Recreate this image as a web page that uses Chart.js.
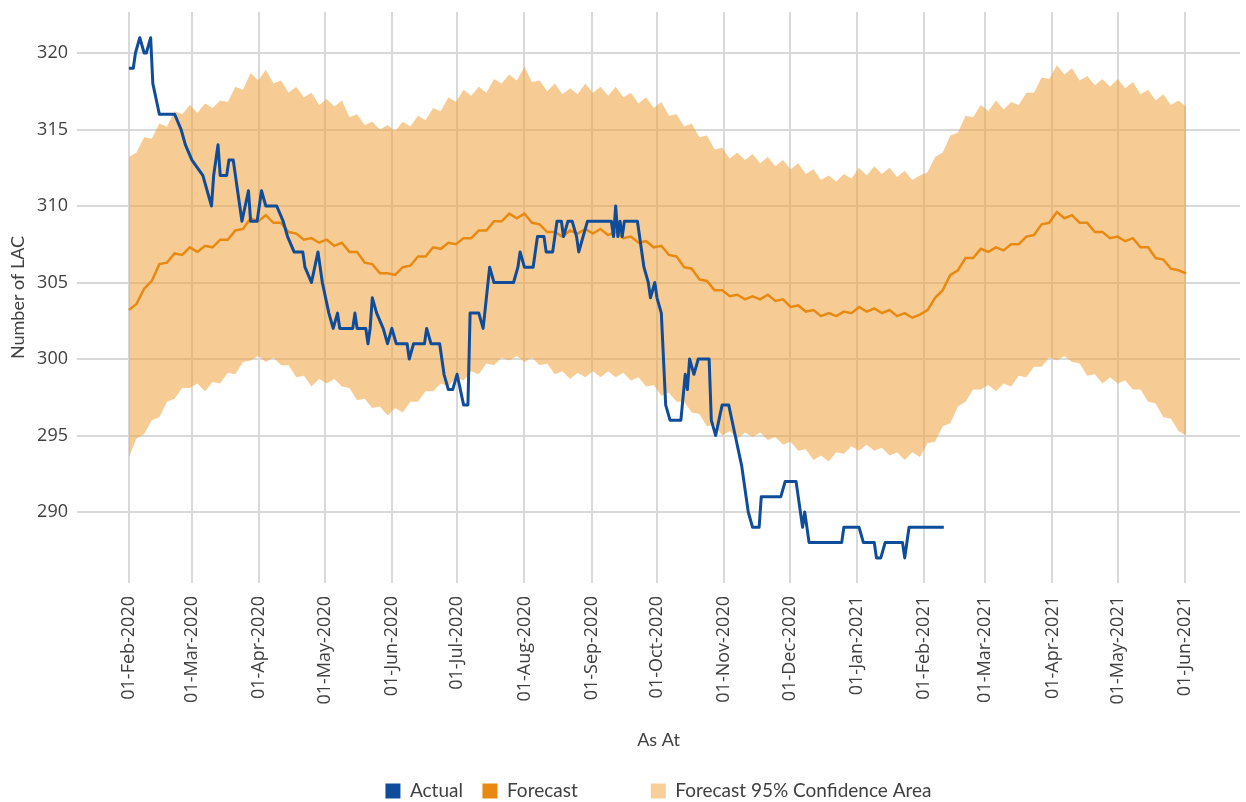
<!DOCTYPE html>
<html>
<head>
<meta charset="utf-8">
<title>Number of LAC – actual vs forecast</title>
<script src="https://cdn.jsdelivr.net/npm/chart.js@4.4.1/dist/chart.umd.min.js"></script>
<style>
    html, body { margin: 0; padding: 0; background: #ffffff; }
    #wrap { width: 1246px; height: 802px; position: relative; }
</style>
</head>
<body>
<div id="wrap"><canvas id="lacChart"></canvas></div>
<script>
// --- DATA (x = days since 01-Feb-2020) ---
const tickDays = [0, 29, 60, 90, 121, 151, 182, 213, 243, 274, 304, 335, 366, 394, 425, 455, 486];
const tickLabels = ['01-Feb-2020', '01-Mar-2020', '01-Apr-2020', '01-May-2020', '01-Jun-2020', '01-Jul-2020',
    '01-Aug-2020', '01-Sep-2020', '01-Oct-2020', '01-Nov-2020', '01-Dec-2020', '01-Jan-2021',
    '01-Feb-2021', '01-Mar-2021', '01-Apr-2021', '01-May-2021', '01-Jun-2021'];
const yTicks = [290, 295, 300, 305, 310, 315, 320];

// Actual: points where the step line changes
const actualDays = [
    0, 2, 3, 5, 7, 8, 10, 11, 14, 21,
    24, 26, 29, 34, 38, 39, 41, 42, 45, 46,
    48, 50, 52, 55, 56, 59, 61, 63, 68, 71,
    73, 76, 80, 81, 84, 87, 89, 92, 94, 96,
    97, 103, 104, 105, 109, 110, 111, 112, 114, 117,
    119, 121, 123, 128, 129, 131, 136, 137, 139, 143,
    145, 147, 149, 151, 154, 156, 157, 161, 163, 166,
    168, 177, 179, 180, 182, 186, 188, 191, 192, 195,
    197, 199, 200, 202, 204, 206, 207, 209, 211, 222,
    223, 224, 225, 226, 227, 228, 234, 237, 239, 240,
    242, 243, 245, 247, 249, 254, 256, 257, 258, 260,
    262, 267, 268, 270, 273, 276, 279, 282, 285, 287,
    290, 291, 300, 302, 307, 309, 310, 311, 313, 328,
    329, 336, 338, 343, 344, 346, 348, 356, 357, 359,
    375
];
const actualValues = [
    319, 319, 320, 321, 320, 320, 321, 318, 316, 316,
    315, 314, 313, 312, 310, 312, 314, 312, 312, 313,
    313, 311, 309, 311, 309, 309, 311, 310, 310, 309,
    308, 307, 307, 306, 305, 307, 305, 303, 302, 303,
    302, 302, 303, 302, 302, 301, 302, 304, 303, 302,
    301, 302, 301, 301, 300, 301, 301, 302, 301, 301,
    299, 298, 298, 299, 297, 297, 303, 303, 302, 306,
    305, 305, 306, 307, 306, 306, 308, 308, 307, 307,
    309, 309, 308, 309, 309, 308, 307, 308, 309, 309,
    308, 310, 308, 309, 308, 309, 309, 306, 305, 304,
    305, 304, 303, 297, 296, 296, 299, 298, 300, 299,
    300, 300, 296, 295, 297, 297, 295, 293, 290, 289,
    289, 291, 291, 292, 292, 290, 289, 290, 288, 288,
    289, 289, 288, 288, 287, 287, 288, 288, 287, 289,
    289
];

// Forecast and 95% band, read every half week from 01-Feb-2020 to 01-Jun-2021
const forecastValues = [
    303.2, 303.6, 304.6, 305.1, 306.2, 306.3, 306.9, 306.8, 307.3, 307.0,
    307.4, 307.3, 307.8, 307.8, 308.4, 308.5, 309.2, 309.0, 309.4, 308.9,
    308.9, 308.3, 308.2, 307.8, 307.9, 307.6, 307.8, 307.4, 307.6, 307.0,
    307.0, 306.3, 306.2, 305.6, 305.6, 305.5, 306.0, 306.1, 306.7, 306.7,
    307.3, 307.2, 307.6, 307.5, 307.9, 307.9, 308.4, 308.4, 309.0, 309.0,
    309.5, 309.2, 309.5, 308.9, 308.8, 308.3, 308.3, 308.0, 308.4, 308.2,
    308.5, 308.2, 308.5, 308.1, 308.3, 307.9, 308.0, 307.6, 307.7, 307.3,
    307.4, 306.8, 306.7, 306.0, 305.9, 305.2, 305.1, 304.5, 304.5, 304.1,
    304.2, 303.9, 304.1, 303.9, 304.2, 303.8, 303.9, 303.4, 303.5, 303.1,
    303.2, 302.8, 303.0, 302.8, 303.1, 303.0, 303.4, 303.1, 303.3, 303.0,
    303.2, 302.8, 303.0, 302.7, 302.9, 303.2, 304.0, 304.5, 305.5, 305.8,
    306.6, 306.6, 307.2, 307.0, 307.3, 307.1, 307.5, 307.5, 308.0, 308.1,
    308.8, 308.9, 309.6, 309.2, 309.4, 308.9, 308.9, 308.3, 308.3, 307.9,
    308.0, 307.7, 307.9, 307.3, 307.3, 306.6, 306.5, 305.9, 305.8, 305.6
];
const upperValues = [
    313.2, 313.5, 314.5, 314.4, 315.4, 315.2, 316.2, 316.0, 316.6, 316.1,
    316.7, 316.4, 316.9, 316.8, 317.8, 317.6, 318.7, 318.2, 318.9, 318.0,
    318.2, 317.4, 317.8, 317.1, 317.4, 316.6, 317.0, 316.5, 316.9, 315.8,
    316.0, 315.3, 315.5, 315.0, 315.3, 314.9, 315.5, 315.2, 315.9, 315.6,
    316.4, 316.2, 317.1, 316.8, 317.6, 317.2, 317.8, 317.4, 318.3, 318.0,
    318.6, 318.2, 319.1, 318.1, 318.2, 317.5, 318.0, 317.3, 317.7, 317.3,
    318.0, 317.4, 317.8, 317.2, 317.8, 317.1, 317.4, 316.7, 317.1, 316.4,
    316.8, 315.9, 316.0, 315.2, 315.4, 314.5, 314.6, 313.7, 313.8, 313.1,
    313.5, 313.0, 313.4, 312.8, 313.2, 312.6, 313.0, 312.4, 312.8, 312.1,
    312.4, 311.7, 312.0, 311.6, 312.1, 311.8, 312.5, 312.0, 312.6, 312.1,
    312.5, 311.9, 312.3, 311.7, 312.0, 312.2, 313.2, 313.5, 314.6, 314.8,
    315.9, 315.8, 316.6, 316.2, 316.9, 316.3, 316.8, 316.6, 317.4, 317.4,
    318.4, 318.3, 319.2, 318.6, 319.0, 318.2, 318.5, 317.9, 318.3, 317.8,
    318.3, 317.7, 318.1, 317.3, 317.6, 316.9, 317.3, 316.6, 316.9, 316.5
];
const lowerValues = [
    293.6, 294.8, 295.1, 296.0, 296.2, 297.2, 297.4, 298.1, 298.1, 298.4,
    297.9, 298.5, 298.4, 299.1, 299.0, 299.8, 299.9, 300.2, 299.8, 300.1,
    299.6, 299.6, 298.8, 298.9, 298.2, 298.7, 298.4, 298.7, 298.2, 298.1,
    297.3, 297.4, 296.8, 296.9, 296.3, 296.8, 296.5, 297.2, 297.2, 297.9,
    297.9, 298.4, 298.2, 298.8, 298.6, 299.2, 299.0, 299.7, 299.6, 300.1,
    299.9, 300.2, 299.8, 300.1, 299.6, 299.7, 299.0, 299.2, 298.7, 299.1,
    298.8, 299.2, 298.8, 299.2, 298.8, 299.1, 298.6, 298.8, 298.2, 298.3,
    297.6, 297.8, 297.2, 297.2, 296.5, 296.4, 295.6, 295.7, 295.0, 295.3,
    294.8, 295.2, 294.9, 295.2, 294.7, 294.9, 294.4, 294.6, 294.0, 294.1,
    293.4, 293.7, 293.3, 293.9, 293.8, 294.3, 294.0, 294.4, 294.0, 294.2,
    293.7, 293.9, 293.4, 293.9, 293.6, 294.5, 294.6, 295.6, 295.8, 296.9,
    297.2, 298.0, 298.0, 298.3, 297.9, 298.4, 298.2, 298.9, 298.8, 299.5,
    299.5, 300.1, 299.9, 300.2, 299.8, 299.7, 298.9, 299.0, 298.4, 298.8,
    298.4, 298.6, 298.0, 298.0, 297.2, 297.1, 296.2, 296.1, 295.3, 295.0
];
// half-week date grid for the forecast series
const bandDays = forecastValues.map((_, i) => i * 3.5);

// --- STYLE ---
const BLUE = '#0f4c9a';
const ORANGE = '#e88a12';
const BAND = 'rgba(241, 163, 60, 0.55)';
const BAND_KEY = '#f8cf9a';
const GRID = '#d9d9d9';
const TEXT = '#404040';
const legendColors = [BLUE, ORANGE, BAND_KEY];

const toPoints = (xs, ys) => xs.map((x, i) => ({ x, y: ys[i] }));

const ctx = document.getElementById('lacChart').getContext('2d');
new Chart(ctx, {
    type: 'line',
    data: {
        datasets: [
            {
                label: 'Actual',
                data: toPoints(actualDays, actualValues),
                borderColor: BLUE,
                backgroundColor: BLUE,
                borderWidth: 3,
                borderJoinStyle: 'round',
                pointRadius: 0,
                tension: 0,
                order: 0
            },
            {
                label: 'Forecast',
                data: toPoints(bandDays, forecastValues),
                borderColor: ORANGE,
                backgroundColor: ORANGE,
                borderWidth: 2.5,
                pointRadius: 0,
                tension: 0,
                order: 1
            },
            {
                label: 'Forecast 95% Confidence Area',
                data: toPoints(bandDays, upperValues),
                borderColor: 'rgba(0,0,0,0)',
                backgroundColor: BAND,
                borderWidth: 0,
                pointRadius: 0,
                fill: '+1',
                order: 2
            },
            {
                label: 'lower',
                data: toPoints(bandDays, lowerValues),
                borderColor: 'rgba(0,0,0,0)',
                borderWidth: 0,
                pointRadius: 0,
                fill: false,
                order: 3
            }
        ]
    },
    options: {
        responsive: true,
        maintainAspectRatio: false,
        animation: false,
        layout: { padding: { top: 12, right: 6, left: 0, bottom: 0 } },
        scales: {
            x: {
                type: 'linear',
                min: -23.9,
                max: 511.3,
                afterBuildTicks: s => { s.ticks = tickDays.map(v => ({ value: v })); },
                afterFit: s => { s.height = 179; s.paddingLeft = 0; s.paddingRight = 0; },
                ticks: {
                    autoSkip: false,
                    minRotation: 90,
                    maxRotation: 90,
                    padding: 13,
                    color: TEXT,
                    font: { family: 'Open Sans', size: 18 },
                    callback: (v, i) => tickLabels[i]
                },
                grid: { color: GRID, lineWidth: 2, drawTicks: false },
                border: { display: false },
                title: {
                    display: true,
                    text: 'As At',
                    color: TEXT,
                    font: { family: 'Lato', size: 18 },
                    padding: { top: 0, bottom: 11 }
                }
            },
            y: {
                min: 285.36,
                max: 322.68,
                afterBuildTicks: s => { s.ticks = yTicks.map(v => ({ value: v })); },
                afterFit: s => { s.width = 77; s.paddingTop = 0; s.paddingBottom = 0; },
                ticks: {
                    padding: 9,
                    color: TEXT,
                    font: { family: 'Open Sans', size: 18 }
                },
                grid: { color: GRID, lineWidth: 2, drawTicks: false },
                border: { display: false },
                title: {
                    display: true,
                    text: 'Number of LAC',
                    color: TEXT,
                    font: { family: 'Lato', size: 18 },
                    padding: { top: 7, bottom: 0 }
                }
            }
        },
        plugins: {
            tooltip: { enabled: false },
            legend: {
                position: 'bottom',
                fullSize: false,
                maxHeight: 40,
                labels: {
                    boxWidth: 15,
                    boxHeight: 15,
                    padding: 19.5,
                    color: TEXT,
                    font: { family: 'Lato', size: 19 },
                    generateLabels(chart) {
                        const items = Chart.defaults.plugins.legend.labels.generateLabels(chart);
                        return items
                            .filter(it => it.datasetIndex !== 3)
                            .map(it => ({
                                ...it,
                                fillStyle: legendColors[it.datasetIndex],
                                strokeStyle: legendColors[it.datasetIndex],
                                lineWidth: 0,
                                // extra gap before the band key, as in the original
                                text: it.datasetIndex === 1 ? it.text + '           ' : it.text
                            }));
                    }
                }
            }
        }
    }
});
</script>
</body>
</html>
